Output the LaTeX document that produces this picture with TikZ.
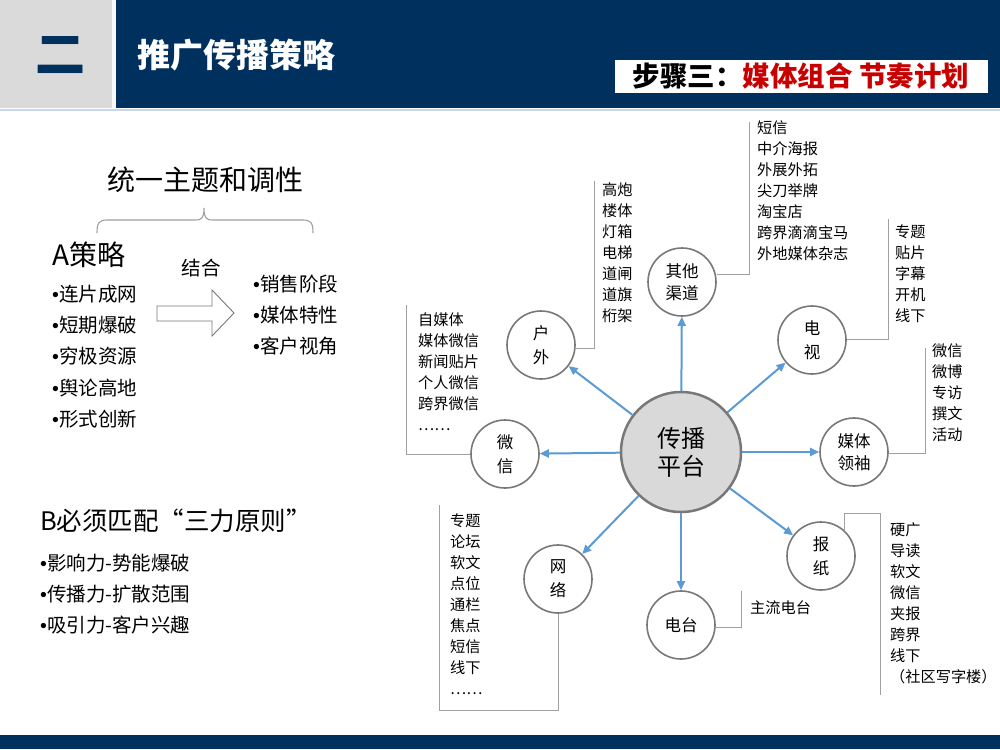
\documentclass[tikz,border=0pt]{standalone}
\usepackage{fontspec}
\setmainfont{Noto Sans CJK SC}
\newfontfamily\bulfont{Liberation Sans}
\newcommand\bu{{\bulfont •}}
\usetikzlibrary{arrows.meta}
\definecolor{navy}{RGB}{0,48,94}
\definecolor{hdrgray}{RGB}{218,218,218}
\definecolor{cgray}{RGB}{120,120,120}
\definecolor{hubfill}{RGB}{217,217,217}
\definecolor{spokeblue}{RGB}{91,155,213}
\definecolor{brkgray}{RGB}{160,160,160}
\definecolor{stepred}{RGB}{200,0,0}
\definecolor{lineblue}{RGB}{200,215,235}
\tikzset{
  circ/.style={circle, draw=cgray, line width=1.6, fill=white, minimum size=68, inner sep=0, align=center, font=\fontsize{16.5}{22}\selectfont},
  circone/.style={circ, font=\fontsize{16.5}{24}\selectfont},
  hub/.style={circle, draw=cgray, line width=2.5, fill=hubfill, minimum size=120, inner sep=0, align=center, font=\fontsize{24}{28}\selectfont},
  spoke/.style={draw=spokeblue, line width=2, -{Triangle[length=9,width=8]}},
  brk/.style={draw=brkgray, line width=1},
  item/.style={anchor=west, inner sep=0, font=\fontsize{15.2}{21}\selectfont, text height=0.8em, text depth=0.04em},
  bul/.style={anchor=west, inner sep=0, font=\fontsize{19.5}{24}\selectfont, text height=0.8em, text depth=0.04em},
}
\begin{document}
\begin{tikzpicture}[x=1pt,y=-1pt]
\useasboundingbox (0,0) rectangle (1000,749);
\fill[white] (0,0) rectangle (1000,749);
% header
\fill[navy] (0,0) rectangle (1000,108);
\fill[hdrgray] (0,0) rectangle (112,108);
\fill[white!85!hdrgray] (112,0) rectangle (116,108);
\draw[lineblue, line width=2] (0,110) -- (1000,110);
\node[text=navy, inner sep=0, font=\bfseries\fontsize{50}{50}\selectfont] (er) at (60,55) {二};
\node[anchor=west, inner sep=0, text=white, font=\bfseries\fontsize{33}{33}\selectfont] (title) at (137,55) {推广传播策略};
\node[fill=white, inner sep=0, minimum width=373, minimum height=33, anchor=north west] (stepbox) at (615,60) {};
\node[inner sep=0, font=\bfseries\fontsize{27.5}{27.5}\selectfont] (steptxt) at (801,76) {步骤三：\textcolor{stepred}{媒体组合 节奏计划}};
% footer
\fill[navy] (0,735) rectangle (1000,749);

% left
\node[inner sep=0, font=\fontsize{28}{28}\selectfont] (theme) at (205,180) {统一主题和调性};
\draw[brk, line width=1.1] (97,233) .. controls (97,223) and (99,220) .. (107,220) -- (195,220) .. controls (202,220) and (204,218) .. (204,208) .. controls (204,218) and (206,220) .. (213,220) -- (303,220) .. controls (311,220) and (313,223) .. (313,233);
\node[anchor=west, inner sep=0, font=\fontsize{28}{28}\selectfont, text height=0.8em, text depth=0.04em] (astr) at (52,262) {A策略};
\node[bul] (a1) at (52,298) {\bu 连片成网};
\node[bul] (a2) at (52,329) {\bu 短期爆破};
\node[bul] (a3) at (52,360) {\bu 穷极资源};
\node[bul] (a4) at (52,392) {\bu 舆论高地};
\node[bul] (a5) at (52,423) {\bu 形式创新};
\node[inner sep=0, font=\fontsize{19.5}{24}\selectfont] (jh) at (201,268) {结合};
\draw[cgray, line width=0.9, fill=white] (157,306) -- (212,306) -- (212,290) -- (234,313) -- (212,336) -- (212,321) -- (157,321) -- cycle;
\node[bul] (r1) at (253,288) {\bu 销售阶段};
\node[bul] (r2) at (253,319) {\bu 媒体特性};
\node[bul] (r3) at (253,350) {\bu 客户视角};
\node[anchor=west, inner sep=0, font=\fontsize{25.5}{25.5}\selectfont, text height=0.8em, text depth=0.04em] (bstr) at (40,527) {B必须匹配“三力原则”};
\node[bul] (b1) at (40,567) {\bu 影响力-势能爆破};
\node[bul] (b2) at (40,598) {\bu 传播力-扩散范围};
\node[bul] (b3) at (40,629) {\bu 吸引力-客户兴趣};

% diagram
\node[hub] (hub) at (681,452) {传播\\平台};
\node[circ] (qt) at (682,282) {其他\\渠道};
\node[circone] (hw) at (541,345) {户\\外};
\node[circone] (tv) at (812,340) {电\\视};
\node[circone] (wx) at (505,454) {微\\信};
\node[circ] (ml) at (854,452) {媒体\\领袖};
\node[circone] (wl) at (558,579) {网\\络};
\node[circ] (dt) at (681,625) {电台};
\node[circone] (bz) at (821,556) {报\\纸};

\foreach \t in {qt,hw,tv,wx,ml,wl,dt,bz} \draw[spoke] (hub) -- (\t);

% brackets and lists
\coordinate (qtA) at (749,274); \coordinate (qtB) at (749,122);
\draw[brk] (qt.east |- qtA) -- (qtA) -- (qtB);
\foreach \t [count=\i] in {短信,中介海报,外展外拓,尖刀举牌,淘宝店,跨界滴滴宝马,外地媒体杂志}
  \node[item] (qtl\i) at (757,109+21*\i) {\t};

\coordinate (hwA) at (594,348); \coordinate (hwB) at (594,181);
\draw[brk] (hw.east |- hwA) -- (hwA) -- (hwB);
\foreach \t [count=\i] in {高炮,楼体,灯箱,电梯,道闸,道旗,桁架}
  \node[item] (hwl\i) at (602,171+21*\i) {\t};

\coordinate (tvA) at (888,339); \coordinate (tvB) at (888,219);
\draw[brk] (tv.east |- tvA) -- (tvA) -- (tvB);
\foreach \t [count=\i] in {专题,贴片,字幕,开机,线下}
  \node[item] (tvl\i) at (895,213+21*\i) {\t};

\coordinate (mlA) at (925,453); \coordinate (mlB) at (925,348);
\draw[brk] (ml.east |- mlA) -- (mlA) -- (mlB);
\foreach \t [count=\i] in {微信,微博,专访,撰文,活动}
  \node[item] (mll\i) at (932,332+21*\i) {\t};

\coordinate (wxA) at (406,454); \coordinate (wxB) at (406,305);
\draw[brk] (wx.west) -- (wxA) -- (wxB);
\foreach \t [count=\i] in {自媒体,媒体微信,新闻贴片,个人微信,跨界微信,……}
  \node[item] (wxl\i) at (418,301+21*\i) {\t};

\coordinate (wlA) at (558,710); \coordinate (wlB) at (439,710); \coordinate (wlC) at (439,505);
\draw[brk] (wl.south) -- (wlA) -- (wlB) -- (wlC);
\foreach \t [count=\i] in {专题,论坛,软文,点位,通栏,焦点,短信,线下,……}
  \node[item] (wll\i) at (450,502+21*\i) {\t};

\coordinate (dtA) at (741,627); \coordinate (dtB) at (741,591);
\draw[brk] (dt.east |- dtA) -- (dtA) -- (dtB);
\node[item] (dtl) at (750,610) {主流电台};

\coordinate (bzA) at (844,513); \coordinate (bzB) at (880,513); \coordinate (bzC) at (880,695);
\draw[brk] ([shift={(23,-25)}]bz.center) -- (bzA) -- (bzB) -- (bzC);
\foreach \t [count=\i] in {硬广,导读,软文,微信,夹报,跨界,线下,（社区写字楼）}
  \node[item] (bzl\i) at (890,511+21*\i) {\t};
\end{tikzpicture}
\end{document}
